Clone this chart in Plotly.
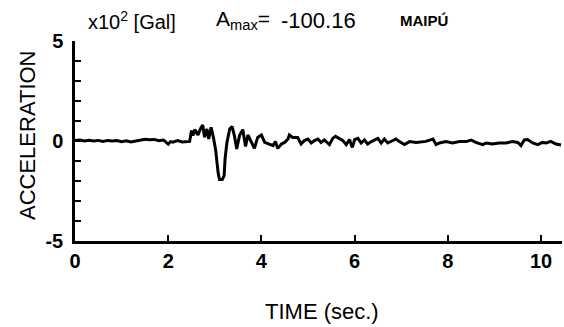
import plotly.graph_objects as go

# Acceleration record, x10^2 Gal
time_s = [0.00, 0.10, 0.20, 0.30, 0.40, 0.50, 0.60, 0.70, 0.80, 0.90,
          1.00, 1.10, 1.20, 1.30, 1.40, 1.50, 1.60, 1.70, 1.80, 1.90,
          2.00, 2.05, 2.10, 2.20, 2.30, 2.40, 2.46, 2.50, 2.53, 2.57,
          2.64, 2.69, 2.74, 2.78, 2.83, 2.87, 2.92, 2.97, 3.02, 3.07,
          3.10, 3.16, 3.20, 3.22, 3.26, 3.32, 3.37, 3.42, 3.47, 3.53,
          3.60, 3.66, 3.71, 3.78, 3.85, 3.92, 4.00, 4.07, 4.17, 4.25,
          4.30, 4.35, 4.43, 4.50, 4.57, 4.60, 4.67, 4.78, 4.85, 4.92,
          5.00, 5.07, 5.14, 5.21, 5.28, 5.35, 5.46, 5.53, 5.59, 5.68,
          5.75, 5.82, 5.89, 5.95, 6.00, 6.07, 6.14, 6.21, 6.28, 6.36,
          6.43, 6.50, 6.57, 6.64, 6.71, 6.82, 6.89, 6.96, 7.07, 7.18,
          7.32, 7.53, 7.68, 7.75, 7.82, 7.96, 8.10, 8.25, 8.39, 8.50,
          8.60, 8.75, 8.82, 8.96, 9.10, 9.25, 9.39, 9.50, 9.57, 9.64,
          9.71, 9.82, 9.93, 10.03, 10.11, 10.21, 10.32, 10.43]
accel = [0.03, 0.05, 0.00, 0.04, 0.00, 0.03, -0.02, 0.03, 0.00, 0.02,
         -0.04, 0.01, -0.05, -0.01, 0.05, 0.09, 0.06, 0.08, 0.01, 0.05,
         -0.16, -0.03, -0.06, 0.02, -0.05, -0.01, -0.02, 0.52, 0.27, 0.57,
         0.30, 0.60, 0.80, 0.18, 0.60, 0.10, 0.68, 0.18, -0.48, -1.57,
         -1.93, -1.93, -1.73, -0.90, -0.07, 0.60, 0.73, 0.27, -0.40, 0.27,
         0.57, -0.27, 0.30, -0.03, -0.37, 0.18, 0.30, -0.07, -0.15, -0.23,
         -0.03, -0.37, -0.15, -0.07, 0.10, 0.30, 0.18, 0.18, -0.15, 0.02,
         0.10, -0.10, 0.02, 0.10, -0.07, 0.05, -0.18, 0.13, 0.23, 0.10,
         0.02, -0.18, 0.07, -0.32, 0.07, 0.13, -0.10, 0.05, -0.15, -0.03,
         0.07, 0.13, -0.10, 0.10, -0.10, 0.02, 0.10, -0.03, -0.18, -0.03,
         -0.07, -0.02, 0.10, -0.18, -0.10, -0.03, -0.10, -0.03, -0.03, 0.05,
         -0.07, -0.18, -0.10, -0.15, -0.10, -0.10, -0.03, -0.07, -0.23, 0.05,
         0.07, -0.10, -0.18, -0.07, -0.10, -0.02, -0.15, -0.20]

x_tick_vals = [0, 2, 4, 6, 8, 10]
x_tick_text = ["0", "2", "4", "6", "8", "10"]
y_tick_vals = [-5, 0, 5]
y_tick_text = ["-5", "0", "5"]

FONT = "Liberation Sans, Arial, sans-serif"

fig = go.Figure()
fig.add_trace(go.Scatter(x=time_s, y=accel, mode="lines",
                         line=dict(color="black", width=3),
                         hoverinfo="skip", showlegend=False))

fig.update_layout(
    width=564, height=327,
    margin=dict(l=75, r=2, t=41, b=86),
    paper_bgcolor="white", plot_bgcolor="white",
    font=dict(family=FONT, color="black"),
    showlegend=False,
    xaxis=dict(range=[0, 10.45], showgrid=False, zeroline=False,
               showline=True, linecolor="black", linewidth=2.5,
               ticks="inside", ticklen=6, tickwidth=2, tickcolor="black",
               tickvals=x_tick_vals, ticktext=x_tick_text,
               tickfont=dict(family=FONT, size=20, color="black", weight="bold"),
               ticklabelstandoff=0),
    yaxis=dict(range=[-5, 5], showgrid=False, zeroline=False,
               showline=True, linecolor="black", linewidth=2.5,
               ticks="inside", ticklen=6, tickwidth=2, tickcolor="black",
               tickvals=y_tick_vals, ticktext=y_tick_text,
               minor=dict(dtick=1, tick0=0, ticks="inside", ticklen=6,
                          tickwidth=2, tickcolor="black", showgrid=False),
               tickfont=dict(family=FONT, size=20, color="black", weight="bold"),
               ticklabelstandoff=5),
    annotations=[
        dict(text="x10<sup>2</sup> [Gal]", x=(86 - 75) / 487, y=(241 - 20) / 200,
             xref="paper", yref="paper", xanchor="left", yanchor="middle",
             showarrow=False, font=dict(size=20)),
        dict(text="A<sub>max</sub>=", x=(214 - 75) / 487, y=(241 - 20) / 200,
             xref="paper", yref="paper", xanchor="left", yanchor="middle",
             showarrow=False, font=dict(size=21)),
        dict(text="-100.16", x=(279 - 75) / 487, y=(241 - 20) / 200,
             xref="paper", yref="paper", xanchor="left", yanchor="middle",
             showarrow=False, font=dict(size=22)),
        dict(text="MAIPÚ", x=(398 - 75) / 487, y=(241 - 20) / 200,
             xref="paper", yref="paper", xanchor="left", yanchor="middle",
             showarrow=False, font=dict(size=15, weight="bold")),
        dict(text="ACCELERATION", x=(27 - 75) / 487, y=(241 - 135) / 200,
             xref="paper", yref="paper", xanchor="center", yanchor="middle",
             textangle=-90, showarrow=False, font=dict(size=22)),
        dict(text="TIME (sec.)", x=(322 - 75) / 487, y=(241 - 311) / 200,
             xref="paper", yref="paper", xanchor="center", yanchor="middle",
             showarrow=False, font=dict(size=22)),
    ],
)

fig.write_html("out.html")
